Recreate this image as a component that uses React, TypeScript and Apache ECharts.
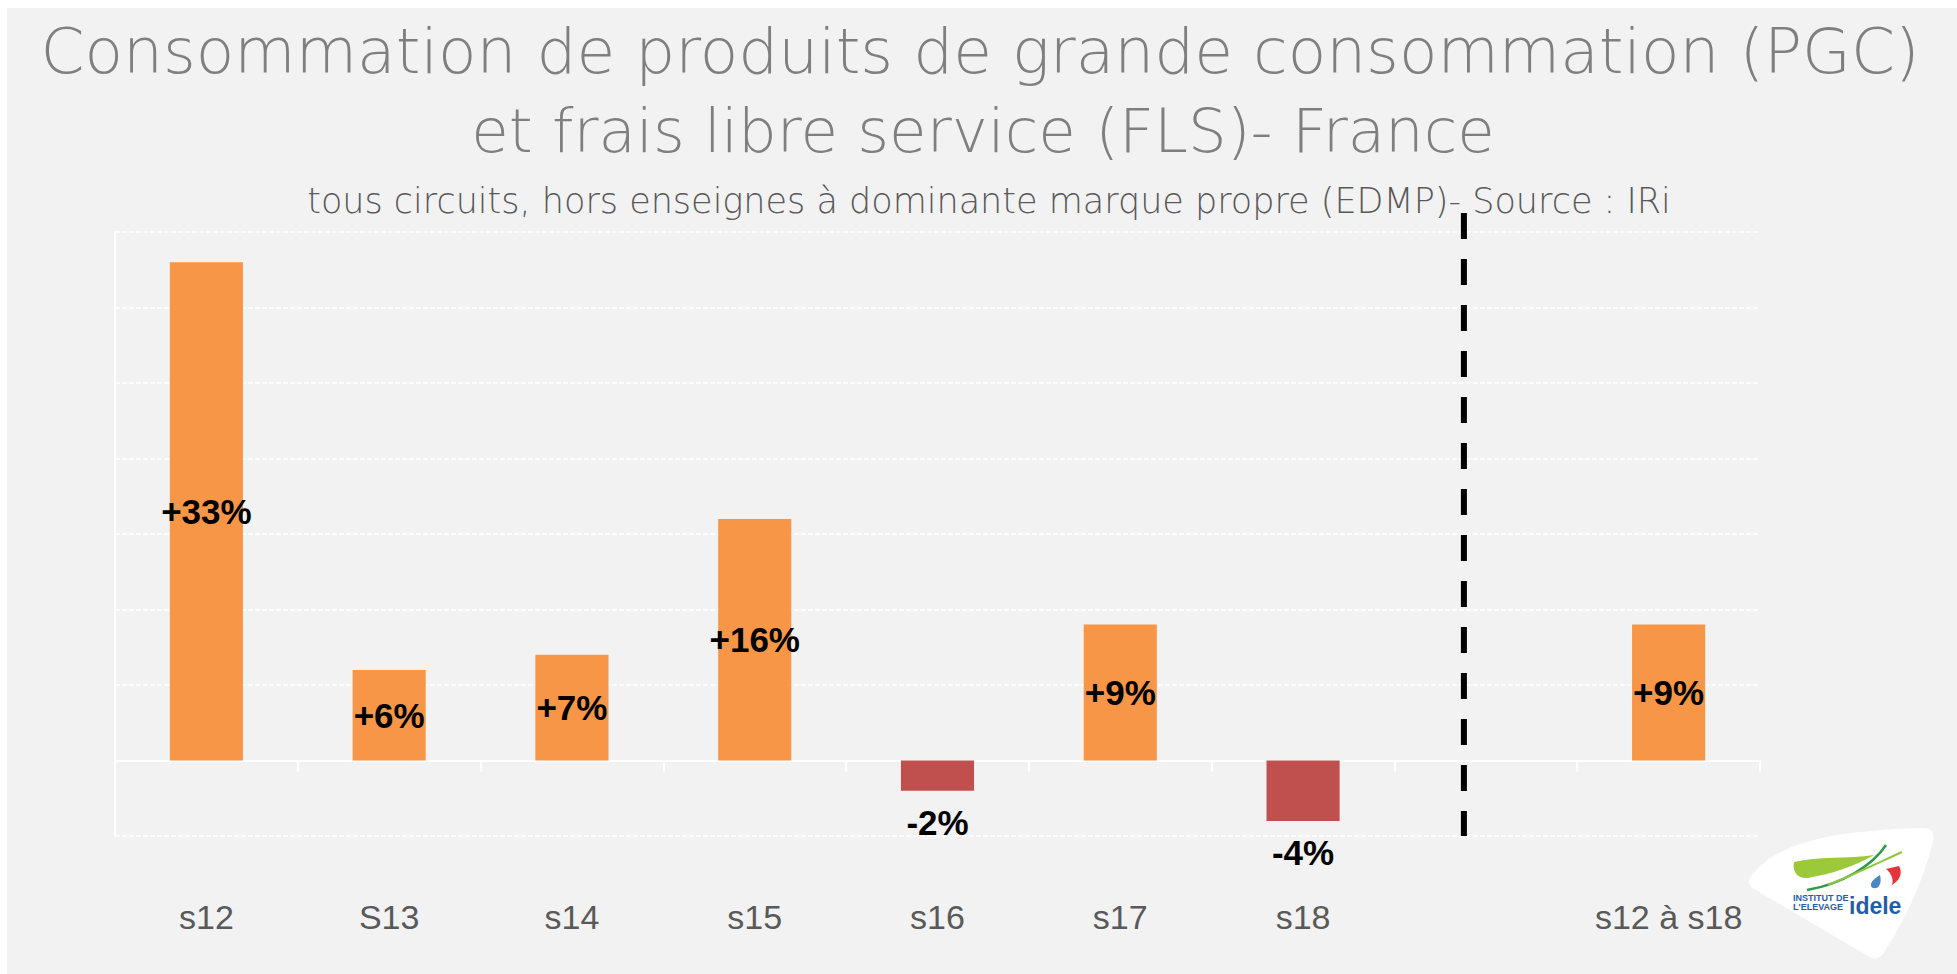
import React, { useEffect, useRef } from "react";
import * as echarts from "echarts";

// ---- data ----
const categories = ["s12", "S13", "s14", "s15", "s16", "s17", "s18", "", "s12 à s18"];
const values: (number | null)[] = [33, 6, 7, 16, -2, 9, -4, null, 9];
const yMin = -5;
const yMax = 35;
const yStep = 5;
const titleLines = [
  "Consommation de produits de grande consommation (PGC)",
  "et frais libre service (FLS)- France",
];
const subtitle = "tous circuits, hors enseignes à dominante marque propre (EDMP)- Source : IRi";
const dividerIndex = 7; // empty slot separating weekly bars from the total

const ORANGE = "#f79646";
const RED = "#c0504d";

// ---- logo shapes ----
echarts.graphic.registerShape(
  "logoBlob",
  echarts.graphic.extendPath(
    "M4 52 C30 20 80 8 172 5 Q188 4 185 18 C175 60 155 100 135 131 Q128 139 120 133 L6 66 Q-3 60 4 52 Z",
    {}
  )
);
echarts.graphic.registerShape(
  "logoSwoosh",
  echarts.graphic.extendPath("M46 39 C70 33 100 36 126 32 C106 44 82 51 60 55 C49 56 44 48 46 39 Z", {})
);
echarts.graphic.registerShape(
  "logoRed",
  echarts.graphic.extendPath("M138 46 L151 43 C155 50 152 57 144 62 C146 56 143 50 138 46 Z", {})
);
echarts.graphic.registerShape(
  "logoDrop",
  echarts.graphic.extendPath("M132 52 C127 55 122 59 123 63 C124 66 129 66 131 63 C133 60 133 56 132 52 Z", {})
);

const fmt = (v: number) => (v > 0 ? "+" + v + "%" : v + "%");

export default function App() {
  const ref = useRef<HTMLDivElement>(null);
  useEffect(() => {
    const chart = echarts.init(ref.current!, null, { renderer: "svg" });
    const option: any = {
      animation: false,
      backgroundColor: "#f2f2f2",
      grid: { left: 108, right: 197, top: 224, bottom: 138, containLabel: false, outerBoundsMode: "none" },
      xAxis: {
        type: "category",
        data: categories,
        axisLine: { show: true, onZero: true, lineStyle: { color: "#ffffff", width: 2 } },
        axisTick: { show: true, length: 11, lineStyle: { color: "#ffffff", width: 2 } },
        axisLabel: {
          interval: 0,
          margin: 64,
          color: "#595959",
          fontFamily: "Liberation Sans",
          fontSize: 34,
          lineHeight: 34,
        },
        splitLine: { show: false },
      },
      yAxis: {
        type: "value",
        min: yMin,
        max: yMax,
        interval: yStep,
        axisLabel: { show: false },
        axisTick: { show: false },
        axisLine: { show: true, lineStyle: { color: "#ffffff", width: 2 } },
        splitLine: { show: true, lineStyle: { color: "#ffffff", width: 1.5, type: [5, 2] } },
      },
      series: [
        {
          type: "bar",
          barWidth: "40%",
          data: values.map((v) =>
            v === null
              ? "-"
              : {
                  value: v,
                  itemStyle: { color: v < 0 ? RED : ORANGE },
                  label: { position: v < 0 ? "bottom" : "inside", distance: 14 },
                }
          ),
          label: {
            show: true,
            formatter: (p: any) => fmt(p.value),
            color: "#000000",
            fontFamily: "Liberation Sans",
            fontWeight: "bold",
            fontSize: 35,
          },
        },
      ],
    };
    chart.setOption(option);

    const x7 = chart.convertToPixel({ xAxisIndex: 0 }, dividerIndex) as number;
    const x8 = chart.convertToPixel({ xAxisIndex: 0 }, dividerIndex + 1) as number;
    const band = x8 - x7;
    const divX = x7 - 0.12 * band;
    const yTop = (chart.convertToPixel({ yAxisIndex: 0 }, yMax) as number) - 19;
    const yBot = chart.convertToPixel({ yAxisIndex: 0 }, yMin) as number;

    chart.setOption({
      graphic: [
        {
          type: "text",
          x: 973,
          y: 43,
          style: {
            text: titleLines[0],
            fill: "#7f7f7f",
            fontFamily: "DejaVu Sans",
            fontWeight: 300,
            fontSize: 63,
            align: "center",
            verticalAlign: "middle",
          },
        },
        {
          type: "text",
          x: 976,
          y: 122,
          style: {
            text: titleLines[1],
            fill: "#7f7f7f",
            fontFamily: "DejaVu Sans",
            fontWeight: 300,
            fontSize: 61,
            align: "center",
            verticalAlign: "middle",
          },
        },
        {
          type: "text",
          x: 982,
          y: 193,
          style: {
            text: subtitle,
            fill: "#595959",
            fontFamily: "DejaVu Sans",
            fontWeight: 300,
            fontSize: 35,
            align: "center",
            verticalAlign: "middle",
          },
        },
        {
          type: "line",
          shape: { x1: divX, y1: yTop, x2: divX, y2: yBot },
          style: { stroke: "#000000", lineWidth: 6, lineDash: [26, 20] },
          z: 5,
        },
        {
          type: "group",
          x: 1741,
          y: 815,
          z: 10,
          children: [
            { type: "logoBlob", style: { fill: "#ffffff" } },
            { type: "logoSwoosh", style: { fill: "#9cc93b" } },
            {
              type: "bezierCurve",
              shape: { x1: 59, y1: 67, cpx1: 95, cpy1: 61, cpx2: 125, cpy2: 42, x2: 138, y2: 22 },
              style: { stroke: "#2f9a48", lineWidth: 2.5, fill: null },
            },
            {
              type: "bezierCurve",
              shape: { x1: 80, y1: 62, cpx1: 110, cpy1: 50, cpx2: 130, cpy2: 40, x2: 154, y2: 29 },
              style: { stroke: "#8cc63f", lineWidth: 2, fill: null },
            },
            { type: "logoRed", style: { fill: "#e8333c" } },
            { type: "logoDrop", style: { fill: "#4a86c5" } },
            {
              type: "text",
              x: 45,
              y: 75,
              style: {
                text: "INSTITUT DE",
                fill: "#1f5ea8",
                fontFamily: "Liberation Sans",
                fontWeight: "bold",
                fontSize: 9,
                align: "left",
                verticalAlign: "middle",
              },
            },
            {
              type: "text",
              x: 45,
              y: 84,
              style: {
                text: "L'ELEVAGE",
                fill: "#1f5ea8",
                fontFamily: "Liberation Sans",
                fontWeight: "bold",
                fontSize: 9,
                align: "left",
                verticalAlign: "middle",
              },
            },
            {
              type: "text",
              x: 101,
              y: 83,
              style: {
                text: "idele",
                fill: "#1f5ea8",
                fontFamily: "Liberation Sans",
                fontWeight: "bold",
                fontSize: 23,
                align: "left",
                verticalAlign: "middle",
              },
            },
          ],
        },
      ],
    });

    return () => chart.dispose();
  }, []);
  return (
    <div
      ref={ref}
      style={{ position: "absolute", left: 7, top: 8, width: 1950, height: 966 }}
    />
  );
}
